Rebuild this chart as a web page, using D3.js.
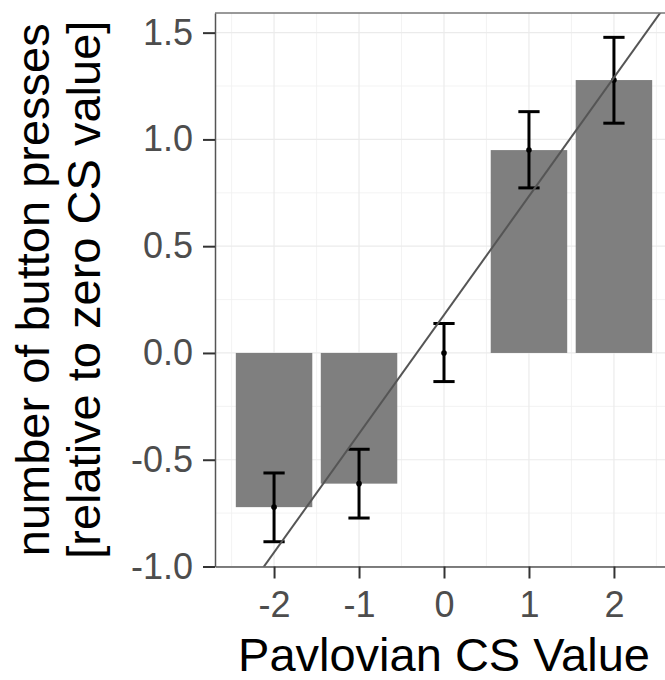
<!DOCTYPE html>
<html>
<head>
<meta charset="utf-8">
<script src="https://cdn.jsdelivr.net/npm/d3@7"></script>
<style>
  body { margin: 0; background: #fff; }
  svg { display: block; font-family: "Liberation Sans", Arial, sans-serif; }
</style>
</head>
<body>
<div id="chart"></div>
<script>
// CS values and mean button presses (relative to zero CS value)
const csValues = [-2, -1, 0, 1, 2];
const means = [-0.722, -0.612, 0, 0.95, 1.278];
const upper = [-0.562, -0.451, 0.138, 1.13, 1.478];
const lower = [-0.884, -0.773, -0.134, 0.773, 1.076];
const yTicks = [-1.0, -0.5, 0.0, 0.5, 1.0, 1.5];
const yMinor = [-0.75, -0.25, 0.25, 0.75, 1.25];
const xMinor = [-2.5, -1.5, -0.5, 0.5, 1.5, 2.5];
// reference line
const lineSlope = 0.556;
const lineIntercept = 0.178;

const width = 665, height = 680;
const margin = {top: 13, right: -8, bottom: 113.5, left: 215};

const svg = d3.select("#chart").append("svg")
  .attr("width", width)
  .attr("height", height);

svg.append("rect")
  .attr("width", width)
  .attr("height", height)
  .attr("fill", "white");

const x = d3.scaleLinear()
  .domain([-2.695, 2.695])
  .range([margin.left, width - margin.right]);

const y = d3.scaleLinear()
  .domain([-1, 1.592])
  .range([height - margin.bottom, margin.top]);

const data = csValues.map((v, i) => ({cs: v, mean: means[i], hi: upper[i], lo: lower[i]}));

// grid
const grid = svg.append("g");
grid.selectAll(".ymin").data(yMinor).enter().append("line")
  .attr("x1", x.range()[0]).attr("x2", x.range()[1])
  .attr("y1", d => y(d)).attr("y2", d => y(d))
  .attr("stroke", "#f0f0f0").attr("stroke-width", 0.8);
grid.selectAll(".xmin").data(xMinor).enter().append("line")
  .attr("y1", y.range()[0]).attr("y2", y.range()[1])
  .attr("x1", d => x(d)).attr("x2", d => x(d))
  .attr("stroke", "#f0f0f0").attr("stroke-width", 0.8);
grid.selectAll(".ymaj").data(yTicks).enter().append("line")
  .attr("x1", x.range()[0]).attr("x2", x.range()[1])
  .attr("y1", d => y(d)).attr("y2", d => y(d))
  .attr("stroke", "#ebebeb").attr("stroke-width", 1.2);
grid.selectAll(".xmaj").data(csValues).enter().append("line")
  .attr("y1", y.range()[0]).attr("y2", y.range()[1])
  .attr("x1", d => x(d)).attr("x2", d => x(d))
  .attr("stroke", "#ebebeb").attr("stroke-width", 1.2);

// bars
const barW = 0.9;
svg.selectAll(".bar").data(data).enter().append("rect")
  .attr("x", d => x(d.cs - barW / 2))
  .attr("width", x(barW) - x(0))
  .attr("y", d => y(Math.max(0, d.mean)))
  .attr("height", d => Math.abs(y(d.mean) - y(0)))
  .attr("fill", "#7f7f7f");

// clip for the reference line
svg.append("clipPath").attr("id", "panel")
  .append("rect")
  .attr("x", x.range()[0]).attr("y", margin.top)
  .attr("width", x.range()[1] - x.range()[0])
  .attr("height", y.range()[0] - margin.top);

// error bars
const eb = svg.append("g").attr("stroke", "black").attr("stroke-width", 3);
const capW = 0.125;
eb.selectAll(".v").data(data).enter().append("line")
  .attr("x1", d => x(d.cs)).attr("x2", d => x(d.cs))
  .attr("y1", d => y(d.hi)).attr("y2", d => y(d.lo));
eb.selectAll(".ch").data(data).enter().append("line")
  .attr("x1", d => x(d.cs - capW)).attr("x2", d => x(d.cs + capW))
  .attr("y1", d => y(d.hi)).attr("y2", d => y(d.hi));
eb.selectAll(".cl").data(data).enter().append("line")
  .attr("x1", d => x(d.cs - capW)).attr("x2", d => x(d.cs + capW))
  .attr("y1", d => y(d.lo)).attr("y2", d => y(d.lo));

svg.selectAll(".pt").data(data).enter().append("circle")
  .attr("cx", d => x(d.cs)).attr("cy", d => y(d.mean))
  .attr("r", 2.8).attr("fill", "black");

svg.append("line")
  .attr("clip-path", "url(#panel)")
  .attr("x1", x(-3)).attr("y1", y(lineIntercept - 3 * lineSlope))
  .attr("x2", x(3)).attr("y2", y(lineIntercept + 3 * lineSlope))
  .attr("stroke", "#555").attr("stroke-width", 2);

// panel top border
svg.append("line")
  .attr("x1", x.range()[0]).attr("x2", width)
  .attr("y1", margin.top).attr("y2", margin.top)
  .attr("stroke", "#777").attr("stroke-width", 1.5);

// axes
const yAxis = svg.append("g")
  .attr("transform", `translate(${x.range()[0]},0)`)
  .call(d3.axisLeft(y).tickValues(yTicks).tickFormat(d3.format(".1f"))
    .tickSizeInner(12).tickSizeOuter(0).tickPadding(10));
const xAxis = svg.append("g")
  .attr("transform", `translate(0,${y.range()[0]})`)
  .call(d3.axisBottom(x).tickValues(csValues).tickFormat(d => d)
    .tickSizeInner(12).tickSizeOuter(0).tickPadding(13));

[xAxis, yAxis].forEach(g => {
  g.select(".domain").attr("stroke", "#555").attr("stroke-width", 1.5);
  g.selectAll(".tick line").attr("stroke", "#333").attr("stroke-width", 2);
  g.selectAll(".tick text")
    .attr("fill", "#4d4d4d")
    .style("font-size", "36px")
    .style("font-family", "Liberation Sans, Arial, sans-serif");
});
yAxis.selectAll(".tick text").text(d => d3.format(".1f")(d).replace("\u2212", "-"));
xAxis.selectAll(".tick text").text(d => String(d));

// axis titles
svg.append("text")
  .attr("x", (x.range()[0] + x.range()[1]) / 2)
  .attr("y", 671)
  .attr("text-anchor", "middle")
  .style("font-size", "47px")
  .attr("fill", "black")
  .text("Pavlovian CS Value");

const midY = (y.range()[0] + y.range()[1]) / 2;
const yTitle = svg.append("text")
  .attr("transform", `translate(49,${midY}) rotate(-90)`)
  .attr("text-anchor", "middle")
  .style("font-size", "47px")
  .attr("fill", "black");
yTitle.append("tspan").attr("x", 0).attr("y", 0).text("number of button presses");
yTitle.append("tspan").attr("x", 0).attr("y", 51).text("[relative to zero CS value]");
</script>
</body>
</html>
